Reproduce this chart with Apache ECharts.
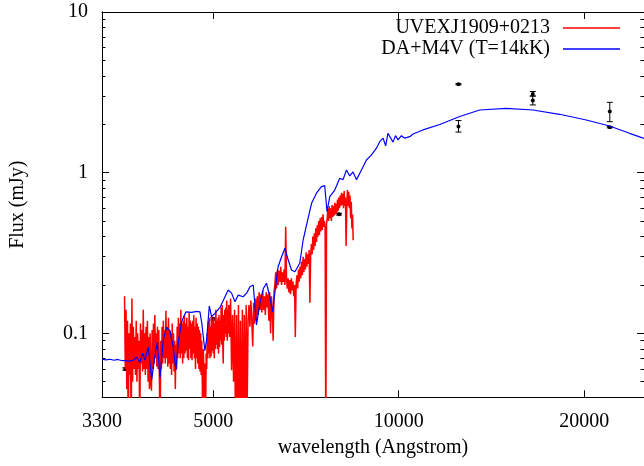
<!DOCTYPE html>
<html>
<head>
<meta charset="utf-8">
<script src="https://cdn.jsdelivr.net/npm/echarts/dist/echarts.min.js"></script>
<style>
  html, body { margin: 0; padding: 0; background: #fff; }
  #chart { width: 644px; height: 466px; }
</style>
</head>
<body>
<div id="chart"></div>
<script>
// tick labels (values in data units)
const xTickLabels = [3300, 5000, 10000, 20000]
const xTicks = [5000, 10000, 20000]
const yTickLabels = [0.1, 1, 10]
const yMinorTicks = [0.05, 0.06, 0.07, 0.08, 0.09, 0.2, 0.3, 0.4, 0.5, 0.6, 0.7, 0.8, 0.9, 2, 3, 4, 5, 6, 7, 8, 9]

const seriesNames = ['UVEXJ1909+0213', 'DA+M4V (T=14kK)']

// observed spectrum [wavelength (A), flux (mJy)]
const redSpec = [
  [3590, 0.17], [3600, 0.06], [3610, 0.14], [3620, 0.045], [3630, 0.12], [3640, 0.02], [3650, 0.10], [3660, 0.055],
  [3670, 0.115], [3680, 0.02], [3690, 0.165], [3700, 0.05], [3710, 0.11], [3720, 0.06], [3730, 0.095], [3740, 0.055],
  [3750, 0.12], [3760, 0.05], [3770, 0.10], [3780, 0.06], [3790, 0.09], [3800, 0.02], [3810, 0.115], [3820, 0.065],
  [3830, 0.105], [3840, 0.058], [3850, 0.14], [3860, 0.06], [3870, 0.10], [3880, 0.055], [3890, 0.11], [3900, 0.06],
  [3910, 0.12], [3920, 0.05], [3930, 0.095], [3940, 0.045], [3950, 0.10], [3960, 0.05], [3970, 0.044], [3980, 0.105],
  [3990, 0.06], [4000, 0.115], [4010, 0.065], [4020, 0.13], [4030, 0.07], [4040, 0.10], [4050, 0.062], [4060, 0.11],
  [4070, 0.06], [4080, 0.105], [4090, 0.05], [4100, 0.02], [4110, 0.09], [4120, 0.06], [4130, 0.11], [4140, 0.065],
  [4150, 0.12], [4160, 0.07], [4170, 0.105], [4180, 0.065], [4190, 0.138], [4200, 0.07], [4210, 0.11], [4220, 0.062],
  [4230, 0.125], [4240, 0.065], [4250, 0.105], [4260, 0.06], [4270, 0.10], [4280, 0.055], [4290, 0.115], [4300, 0.065],
  [4310, 0.10], [4320, 0.058], [4330, 0.09], [4340, 0.045], [4350, 0.085], [4360, 0.06], [4370, 0.11], [4380, 0.07],
  [4390, 0.125], [4400, 0.075], [4410, 0.115], [4420, 0.07], [4430, 0.14], [4440, 0.075], [4450, 0.115], [4460, 0.065],
  [4470, 0.12], [4480, 0.07], [4490, 0.13], [4500, 0.075], [4510, 0.115], [4520, 0.078], [4530, 0.125], [4540, 0.07],
  [4550, 0.11], [4560, 0.068], [4570, 0.135], [4580, 0.08], [4590, 0.12], [4600, 0.07], [4610, 0.115], [4620, 0.068],
  [4630, 0.12], [4640, 0.075], [4650, 0.13], [4660, 0.07], [4670, 0.11], [4680, 0.06], [4690, 0.125], [4700, 0.07],
  [4710, 0.115], [4720, 0.065], [4730, 0.11], [4740, 0.06], [4750, 0.105], [4760, 0.058], [4770, 0.10], [4780, 0.055],
  [4790, 0.09], [4800, 0.05], [4810, 0.02], [4820, 0.08], [4830, 0.05], [4840, 0.02], [4850, 0.065], [4860, 0.03],
  [4870, 0.075], [4880, 0.06], [4890, 0.10], [4900, 0.07], [4910, 0.12], [4920, 0.075], [4930, 0.125], [4940, 0.07],
  [4950, 0.11], [4960, 0.072], [4970, 0.13], [4980, 0.078], [4990, 0.12], [5000, 0.075], [5010, 0.125], [5020, 0.07],
  [5030, 0.115], [5040, 0.08], [5050, 0.14], [5060, 0.085], [5070, 0.12], [5080, 0.08], [5090, 0.125], [5100, 0.075],
  [5110, 0.13], [5120, 0.082], [5130, 0.12], [5140, 0.09], [5150, 0.145], [5160, 0.085], [5170, 0.15], [5180, 0.09],
  [5190, 0.065], [5200, 0.13], [5210, 0.09], [5220, 0.14], [5230, 0.10], [5240, 0.145], [5250, 0.095], [5260, 0.16],
  [5270, 0.09], [5280, 0.14], [5290, 0.10], [5300, 0.15],
  [5315, 0.095], [5335, 0.165], [5355, 0.059], [5375, 0.13],
  [5395, 0.05], [5415, 0.14], [5435, 0.02], [5455, 0.13], [5475, 0.02], [5495, 0.15], [5515, 0.02], [5535, 0.12],
  [5555, 0.02], [5575, 0.14], [5595, 0.02], [5615, 0.13], [5635, 0.02], [5655, 0.15], [5675, 0.03], [5695, 0.12],
  [5715, 0.15], [5735, 0.11], [5755, 0.16], [5775, 0.12], [5795, 0.083], [5815, 0.155], [5835, 0.115], [5855, 0.165],
  [5875, 0.12], [5895, 0.17], [5915, 0.13], [5935, 0.18], [5955, 0.14], [5975, 0.175], [5995, 0.135], [6015, 0.185],
  [6035, 0.14], [6055, 0.17], [6075, 0.13], [6095, 0.18], [6115, 0.145], [6135, 0.175], [6155, 0.12], [6175, 0.18],
  [6195, 0.10], [6215, 0.17], [6235, 0.14], [6255, 0.09], [6275, 0.18], [6295, 0.20], [6315, 0.24], [6335, 0.19],
  [6355, 0.25], [6375, 0.20], [6395, 0.245], [6415, 0.21], [6435, 0.26], [6455, 0.20], [6475, 0.24], [6495, 0.21],
  [6515, 0.25], [6535, 0.20], [6555, 0.46], [6575, 0.22], [6595, 0.19], [6615, 0.22], [6635, 0.18], [6655, 0.215],
  [6675, 0.175], [6695, 0.22], [6715, 0.185], [6735, 0.21], [6755, 0.17], [6775, 0.20], [6795, 0.095], [6815, 0.20],
  [6835, 0.23], [6855, 0.19], [6875, 0.25], [6895, 0.21], [6915, 0.26], [6935, 0.22], [6955, 0.28], [6975, 0.23],
  [6995, 0.30], [7015, 0.24], [7035, 0.29], [7055, 0.25], [7075, 0.32], [7095, 0.26], [7115, 0.31], [7135, 0.27],
  [7155, 0.33], [7175, 0.155], [7195, 0.30], [7215, 0.36], [7235, 0.31], [7255, 0.40], [7275, 0.33], [7295, 0.42],
  [7315, 0.35], [7335, 0.45], [7355, 0.37], [7375, 0.47], [7395, 0.40], [7415, 0.50], [7435, 0.41], [7455, 0.52],
  [7475, 0.43], [7495, 0.53], [7515, 0.44], [7535, 0.55], [7555, 0.46], [7575, 0.50], [7595, 0.45], [7615, 0.02],
  [7635, 0.48], [7655, 0.52], [7675, 0.60], [7695, 0.50], [7715, 0.62], [7735, 0.52], [7755, 0.60], [7775, 0.50],
  [7795, 0.63], [7815, 0.53], [7835, 0.62], [7855, 0.54], [7875, 0.65], [7895, 0.55], [7915, 0.64], [7935, 0.56],
  [7955, 0.68], [7975, 0.58], [7995, 0.70], [8015, 0.60], [8035, 0.72], [8055, 0.62], [8075, 0.75], [8095, 0.63],
  [8115, 0.74], [8135, 0.60], [8155, 0.77], [8175, 0.62], [8195, 0.70], [8215, 0.35], [8235, 0.60], [8255, 0.78],
  [8275, 0.62], [8295, 0.76], [8315, 0.60], [8335, 0.72], [8355, 0.52], [8375, 0.66], [8395, 0.45], [8415, 0.55],
  [8435, 0.38]
]

// model spectrum [wavelength (A), flux (mJy)]
const blueSpec = [
  [3300, 0.069], [3350, 0.0683], [3400, 0.069], [3450, 0.068], [3500, 0.0688], [3550, 0.0678], [3590, 0.0676],
  [3650, 0.0672], [3710, 0.068], [3756, 0.071], [3802, 0.066], [3841, 0.0752], [3874, 0.068], [3925, 0.082],
  [3973, 0.0513], [4023, 0.0735], [4057, 0.0875], [4099, 0.053], [4148, 0.091], [4201, 0.109], [4252, 0.104],
  [4306, 0.0826], [4350, 0.0591], [4386, 0.0867], [4442, 0.118], [4514, 0.136], [4614, 0.135], [4700, 0.137],
  [4758, 0.136], [4789, 0.117], [4847, 0.078], [4878, 0.091], [4927, 0.148], [4970, 0.127], [5032, 0.133],
  [5128, 0.145], [5225, 0.169], [5288, 0.186], [5355, 0.178], [5423, 0.1575], [5490, 0.173], [5591, 0.169],
  [5666, 0.178], [5736, 0.195], [5806, 0.20], [5878, 0.1127], [5952, 0.154], [6030, 0.19], [6101, 0.205],
  [6178, 0.169], [6241, 0.136], [6294, 0.178], [6372, 0.26], [6455, 0.30], [6535, 0.3385], [6617, 0.286],
  [6700, 0.248], [6784, 0.242], [6909, 0.273], [6996, 0.381], [7086, 0.473], [7220, 0.645], [7353, 0.745],
  [7491, 0.818], [7584, 0.83], [7649, 0.572], [7728, 0.709], [7874, 0.78], [8022, 0.923], [8121, 0.905],
  [8226, 1.04], [8327, 0.954], [8430, 1.01], [8540, 0.905], [8700, 1.04], [8864, 1.2], [9031, 1.29],
  [9201, 1.42], [9314, 1.56], [9431, 1.64], [9522, 1.47], [9606, 1.76], [9788, 1.55], [9880, 1.70],
  [9973, 1.60], [10100, 1.70], [10227, 1.64], [10420, 1.675], [10547, 1.74], [10947, 1.845], [11657, 1.995],
  [12557, 2.237], [13533, 2.456], [14947, 2.516], [16510, 2.456], [18236, 2.309], [20153, 2.128],
  [21982, 1.952], [23687, 1.758], [25000, 1.633]
]

// photometry with error bars
const photWave = [3600, 5000, 6490, 8000, 12500, 12500, 16500, 16500, 22000, 22000]
const photFlux = [0.060, 0.123, 0.215, 0.552, 3.55, 1.94, 3.09, 2.81, 2.40, 1.917]
const photLow = [0.059, 0.121, 0.211, 0.545, 3.52, 1.79, 3.00, 2.64, 2.077, 1.90]
const photHigh = [0.061, 0.125, 0.219, 0.559, 3.58, 2.11, 3.20, 3.00, 2.74, 1.935]

const LX = v => Math.log10(v)
const FONT = 'Liberation Serif'
const BLACK = '#000'

let chart = echarts.init(document.getElementById('chart'))

const axisLine = { show: true, onZero: false, lineStyle: { color: BLACK, width: 1 } }
const xBase = { type: 'value', min: LX(3300), max: LX(25000), axisLine: axisLine, splitLine: { show: false } }
const yBase = { type: 'value', min: LX(0.04), max: LX(10), axisLine: axisLine, splitLine: { show: false } }
const majorTick = vals => ({ show: true, inside: true, length: 7, lineStyle: { color: BLACK, width: 1 }, customValues: vals.map(LX) })
const minorTick = vals => ({ show: true, inside: true, length: 3.5, lineStyle: { color: BLACK, width: 1 }, customValues: vals.map(LX) })
const noLabel = { show: false }

const toXY = arr => arr.map(d => [LX(d[0]), LX(d[1])])

chart.setOption({
  animation: false,
  backgroundColor: '#fff',
  grid: { left: 102, top: 12, width: 543.4, height: 385.3 },
  legend: {
    orient: 'vertical',
    right: 24,
    top: 18,
    padding: 0,
    align: 'right',
    itemWidth: 57,
    itemHeight: 1.5,
    itemGap: 1,
    textStyle: { fontFamily: FONT, fontSize: 20, color: BLACK, padding: [0, 8, 0, 0] },
    data: [
      { name: seriesNames[0], icon: 'rect' },
      { name: seriesNames[1], icon: 'rect' }
    ]
  },
  xAxis: [
    Object.assign({}, xBase, {
      position: 'bottom',
      axisTick: majorTick(xTicks),
      axisLabel: {
        customValues: xTickLabels.map(LX),
        formatter: v => String(Math.round(Math.pow(10, v))),
        fontFamily: FONT, fontSize: 20, color: BLACK, margin: 14
      },
      name: 'wavelength (Angstrom)',
      nameLocation: 'middle',
      nameGap: 40,
      nameTextStyle: { fontFamily: FONT, fontSize: 20, color: BLACK }
    }),
    Object.assign({}, xBase, { position: 'top', axisTick: majorTick(xTicks), axisLabel: noLabel })
  ],
  yAxis: [
    Object.assign({}, yBase, {
      position: 'left',
      axisTick: majorTick(yTickLabels),
      axisLabel: {
        customValues: yTickLabels.map(LX),
        formatter: v => String(Math.round(Math.pow(10, v) * 10) / 10),
        fontFamily: FONT, fontSize: 20, color: BLACK, margin: 14
      },
      name: 'Flux (mJy)',
      nameLocation: 'middle',
      nameRotate: 90,
      nameGap: 74,
      nameTextStyle: { fontFamily: FONT, fontSize: 20, color: BLACK }
    }),
    Object.assign({}, yBase, { position: 'left', axisTick: minorTick(yMinorTicks), axisLabel: noLabel }),
    Object.assign({}, yBase, { position: 'right', axisTick: majorTick(yTickLabels), axisLabel: noLabel }),
    Object.assign({}, yBase, { position: 'right', axisTick: minorTick(yMinorTicks), axisLabel: noLabel })
  ],
  series: [
    {
      name: seriesNames[0],
      type: 'line',
      xAxisIndex: 0,
      yAxisIndex: 0,
      data: toXY(redSpec),
      color: '#ff0000',
      showSymbol: false,
      symbol: 'none',
      lineStyle: { color: '#ff0000', width: 1.5 },
      clip: true
    },
    {
      name: seriesNames[1],
      type: 'line',
      xAxisIndex: 0,
      yAxisIndex: 0,
      data: toXY(blueSpec),
      color: '#0000ff',
      showSymbol: false,
      symbol: 'none',
      lineStyle: { color: '#0000ff', width: 1.2 },
      clip: true
    },
    {
      // 测光点 + 误差棒
      type: 'custom',
      xAxisIndex: 0,
      yAxisIndex: 0,
      data: photWave.map((w, i) => [LX(w), LX(photFlux[i]), LX(photLow[i]), LX(photHigh[i])]),
      encode: { x: 0, y: [1, 2, 3] },
      renderItem(params, api) {
        const x = api.value(0)
        const c = api.coord([x, api.value(1)])
        const lo = api.coord([x, api.value(2)])
        const hi = api.coord([x, api.value(3)])
        const w = 3
        const st = { stroke: BLACK, lineWidth: 1 }
        return {
          type: 'group',
          children: [
            { type: 'line', shape: { x1: c[0], y1: hi[1], x2: c[0], y2: lo[1] }, style: st },
            { type: 'line', shape: { x1: c[0] - w, y1: hi[1], x2: c[0] + w, y2: hi[1] }, style: st },
            { type: 'line', shape: { x1: c[0] - w, y1: lo[1], x2: c[0] + w, y2: lo[1] }, style: st },
            { type: 'circle', shape: { cx: c[0], cy: c[1], r: 2 }, style: { fill: BLACK } }
          ]
        }
      }
    }
  ]
})
</script>
</body>
</html>
